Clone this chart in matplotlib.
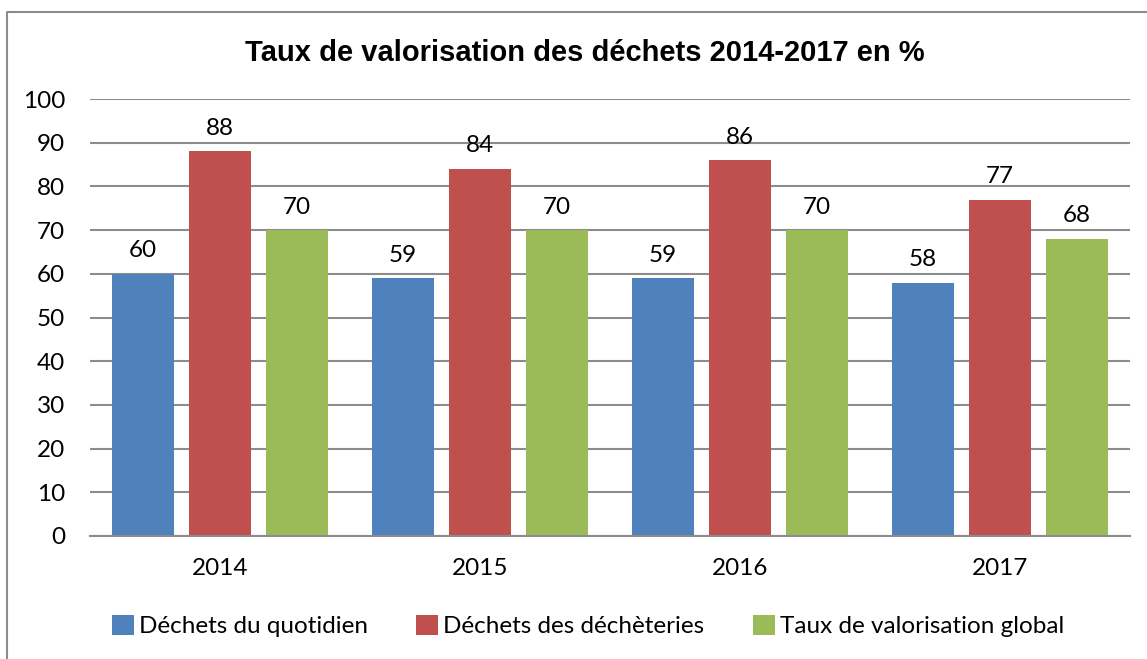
import numpy as np
import matplotlib.pyplot as plt

years = ["2014", "2015", "2016", "2017"]
series = ["Déchets du quotidien", "Déchets des déchèteries", "Taux de valorisation global"]
quotidien = [60, 59, 59, 58]
decheteries = [88, 84, 86, 77]
global_rate = [70, 70, 70, 68]
colors = ["#4F81BD", "#C0504D", "#9BBB59"]

plt.rcParams["font.family"] = ["Lato", "DejaVu Sans"]

fig = plt.figure(figsize=(11.47, 6.59), dpi=100)
ax = fig.add_axes([90 / 1147, 1 - 536 / 659, 1040 / 1147, 437 / 659])

x = np.arange(len(years))
width = 0.235
offset = 0.296
for i, (vals, col) in enumerate(zip([quotidien, decheteries, global_rate], colors)):
    bars = ax.bar(x + (i - 1) * offset, vals, width, color=col, label=series[i], zorder=2)
    for b, v in zip(bars, vals):
        ax.annotate(str(v), (b.get_x() + b.get_width() / 2, v), xytext=(0, 9),
                    textcoords="offset points", ha="center", va="bottom", fontsize=17.5)

ax.set_xlim(-0.5, 3.5)
ax.set_ylim(0, 100)
ax.set_yticks(range(0, 101, 10))
ax.set_xticks(x)
ax.set_xticklabels(years)
ax.tick_params(axis="both", length=0, labelsize=17.5)
ax.tick_params(axis="y", pad=18)
ax.tick_params(axis="x", pad=16)
ax.grid(axis="y", color="#8c8c8c", linewidth=1.5, zorder=0)
for s in ["top", "right", "left"]:
    ax.spines[s].set_visible(False)
ax.spines["bottom"].set_color("#8c8c8c")
ax.spines["bottom"].set_linewidth(1.5)

fig.text(585 / 1147, 1 - 53 / 659, "Taux de valorisation des déchets 2014-2017 en %",
         ha="center", va="center", fontsize=21, fontweight="bold",
         family=["Liberation Sans", "DejaVu Sans"])

fig.legend(loc="center", bbox_to_anchor=(588 / 1147, 1 - 626 / 659), ncol=3,
           frameon=False, fontsize=17.5, handlelength=0.9, handleheight=0.9,
           handletextpad=0.2, columnspacing=2.0)

# outer chart frame (only top and left edges fall inside the canvas)
fig.add_artist(plt.Line2D([7 / 1147, 7 / 1147, 1], [0, 1 - 12 / 659, 1 - 12 / 659],
                          transform=fig.transFigure, color="#8c8c8c", linewidth=1.5))

fig.savefig("out.png", dpi=100)
